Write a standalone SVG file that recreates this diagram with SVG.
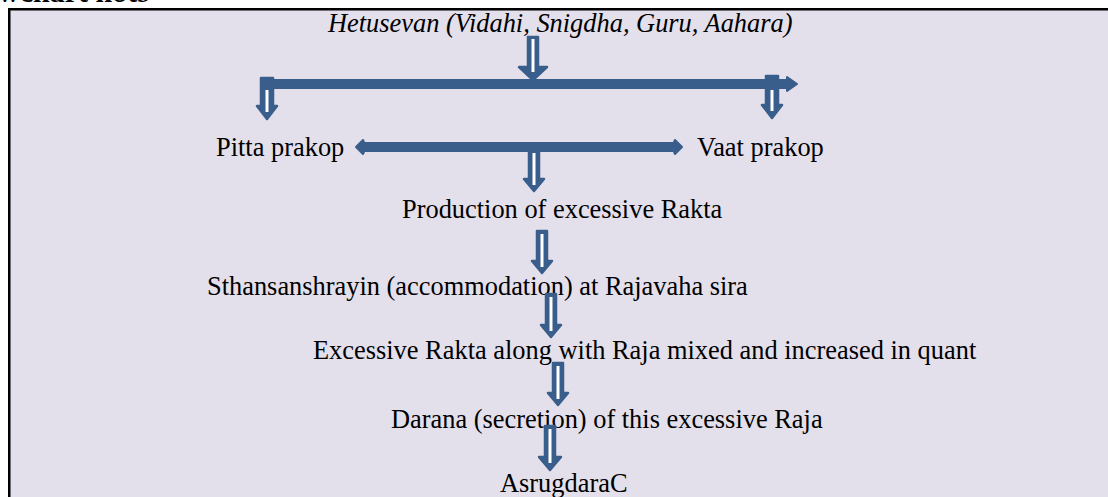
<svg xmlns="http://www.w3.org/2000/svg" width="1108" height="497" viewBox="0 0 1108 497">
<style>
.t{font-family:"Liberation Serif","Times New Roman",serif;font-size:26.4px;fill:#000}
.i{font-style:italic}
.bar{stroke:#3A5E8B;stroke-width:10;fill:none}
.ah{fill:#3A5E8B;stroke:#3A5E8B;stroke-width:2;stroke-linejoin:round}
.dn{fill:#3A5E8B;stroke:#3A5E8B;stroke-width:2.5;stroke-linejoin:round}
.in{stroke:#FFFFFF;stroke-width:3;stroke-linecap:butt}
</style>
<rect x="0" y="0" width="1108" height="497" fill="#FFFFFF"/>
<text class="t" x="-2" y="2" style="font-weight:bold;font-size:30px">wchart nots</text>
<rect x="9.25" y="9.25" width="1200" height="600" fill="#E3DFEB" stroke="#000" stroke-width="2.5"/>

<g id="n-title"><text class="t i" x="328" y="32">Hetusevan (Vidahi, Snigdha, Guru, Aahara)</text></g>
<g id="n-pitta"><text class="t" x="216" y="156">Pitta prakop</text></g>
<g id="n-vaat"><text class="t" x="697" y="156">Vaat prakop</text></g>
<g id="n-prod"><text class="t" x="402" y="218">Production of excessive Rakta</text></g>
<g id="n-sthan"><text class="t" x="207" y="295">Sthansanshrayin (accommodation) at Rajavaha sira</text></g>
<g id="n-exc"><text class="t" x="313" y="359">Excessive Rakta along with Raja mixed and increased in quant</text></g>
<g id="n-darana"><text class="t" x="391" y="428">Darana (secretion) of this excessive Raja</text></g>
<g id="n-asrug"><text class="t" x="500" y="492">AsrugdaraC</text></g>

<g id="connectors">
  <!-- top bar -->
  <line class="bar" x1="262" y1="84" x2="790" y2="84"/>
  <polygon class="ah" points="787,77 797,84 787,91"/>
  <!-- middle bar -->
  <line class="bar" x1="360" y1="147" x2="678" y2="147"/>
  <polygon class="ah" points="356,147 363,140 366,147 363,154"/>
  <polygon class="ah" points="682,147 675,140 672,147 675,154"/>

  <!-- top arrow -->
  <path class="dn" d="M528,37 H538 V67 H547 L533,80 L519,67 H528 Z"/>
  <line class="in" x1="533" y1="39" x2="533" y2="72"/>
  <!-- left down arrow -->
  <path class="dn" d="M261,78 H273 V106 H277 L267,119 L257,106 H261 Z"/>
  <line class="in" x1="267" y1="90" x2="267" y2="112"/>
  <!-- right down arrow -->
  <path class="dn" d="M766,76 H778 V105 H782 L772,118 L762,105 H766 Z"/>
  <line class="in" x1="772" y1="90" x2="772" y2="111"/>
  <!-- mid to production -->
  <path class="dn" d="M529,150 H539 V179 H544 L534,191 L524,179 H529 Z"/>
  <line class="in" x1="534" y1="153" x2="534" y2="185"/>
  <!-- production to sthan -->
  <path class="dn" d="M537,231 H547 V261 H552 L542,273 L532,261 H537 Z"/>
  <line class="in" x1="542" y1="234" x2="542" y2="267"/>
  <!-- sthan to excessive -->
  <path class="dn" d="M546,294 H556 V325 H561 L551,337 L541,325 H546 Z"/>
  <line class="in" x1="551" y1="297" x2="551" y2="331"/>
  <!-- excessive to darana -->
  <path class="dn" d="M553,363 H563 V393 H568 L558,405 L548,393 H553 Z"/>
  <line class="in" x1="558" y1="366" x2="558" y2="399"/>
  <!-- darana to asrug -->
  <path class="dn" d="M545,426 H555 V457 H561 L550,470 L539,457 H545 Z"/>
  <line class="in" x1="550" y1="429" x2="550" y2="463"/>
</g>
</svg>
